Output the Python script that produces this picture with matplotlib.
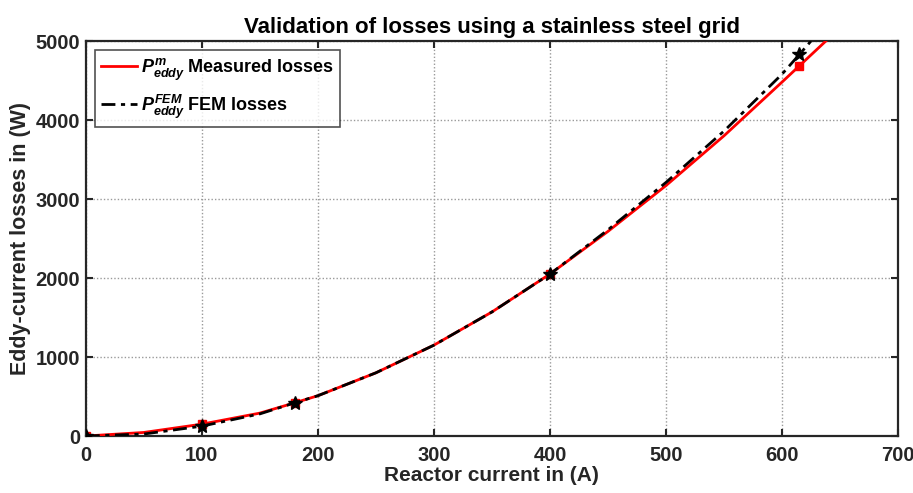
import matplotlib
matplotlib.use("Agg")
import matplotlib.pyplot as plt

plt.rcParams['font.family'] = ['Liberation Sans', 'DejaVu Sans']
plt.rcParams['font.weight'] = 'bold'
plt.rcParams['mathtext.fontset'] = 'custom'
plt.rcParams['mathtext.it'] = 'Liberation Sans:bold:italic'
plt.rcParams['mathtext.rm'] = 'Liberation Sans:bold'

# Measured eddy-current losses: fitted curve and test points
meas_curve_current = [0, 50, 100, 150, 180, 200, 250, 300, 350, 400, 450, 500, 550, 600, 640]
meas_curve_loss = [0, 45, 150, 290, 420, 510, 800, 1150, 1570, 2050, 2590, 3170, 3800, 4480, 5030]
meas_pts_current = [0, 100, 180, 400, 615]
meas_pts_loss = [0, 150, 420, 2050, 4680]

# FEM-computed eddy-current losses
fem_curve_current = [0, 50, 100, 150, 180, 200, 250, 300, 350, 400, 450, 500, 550, 600, 615, 625]
fem_curve_loss = [0, 25, 125, 280, 420, 510, 800, 1150, 1570, 2050, 2610, 3210, 3860, 4580, 4830, 5000]
fem_pts_current = [0, 100, 180, 400, 615]
fem_pts_loss = [0, 130, 420, 2050, 4830]

x_ticks = [0, 100, 200, 300, 400, 500, 600, 700]
y_ticks = [0, 1000, 2000, 3000, 4000, 5000]

fig = plt.figure(figsize=(9.13, 4.93), dpi=100)
ax = fig.add_axes([0.094, 0.1156, 0.8896, 0.8012])

l1, = ax.plot(meas_curve_current, meas_curve_loss, color='#ff0000', lw=2.0,
              label=r'$P^{m}_{eddy}$ Measured losses', zorder=3)
ax.plot(meas_pts_current, meas_pts_loss, linestyle='none', marker='s', ms=6,
        color='#ff0000', zorder=4)
l2, = ax.plot(fem_curve_current, fem_curve_loss, color='black', lw=2.0,
              linestyle=(0, (5, 2, 1.5, 2)),
              label=r'$P^{FEM}_{eddy}$ FEM losses', zorder=5)
ax.plot(fem_pts_current, fem_pts_loss, linestyle='none', marker='*', ms=10,
        color='black', zorder=6)

ax.set_xlim(0, 700)
ax.set_ylim(0, 5000)
ax.set_xticks(x_ticks)
ax.set_yticks(y_ticks)
ax.tick_params(labelsize=14.5, width=1.5, length=5, direction='in', colors='#262626',
               top=True, right=True, pad=4)
ax.tick_params(axis='x', pad=7)
for lab in ax.get_xticklabels() + ax.get_yticklabels():
    lab.set_fontweight('bold')
ax.grid(True, color='#9a9a9a', linestyle=(0, (1, 1.5)), linewidth=1.0)
for s in ax.spines.values():
    s.set_linewidth(1.6)
    s.set_color('#262626')

ax.set_xlabel('Reactor current in (A)', fontsize=15, fontweight='bold',
              labelpad=1, color='#262626')
ax.set_ylabel('Eddy-current losses in (W)', fontsize=15.5, fontweight='bold',
              labelpad=3, color='#262626')
ax.set_title('Validation of losses using a stainless steel grid', fontsize=16,
             fontweight='bold', pad=6)

leg = ax.legend(handles=[l1, l2], loc='upper left', fontsize=13, frameon=True,
                fancybox=False, edgecolor='#262626', handlelength=2.0,
                handletextpad=0.2, borderaxespad=0.5, labelspacing=0.55,
                borderpad=0.35)
leg.get_frame().set_linewidth(1.2)
for t in leg.get_texts():
    t.set_fontweight('bold')

fig.savefig('out.png', dpi=100)
